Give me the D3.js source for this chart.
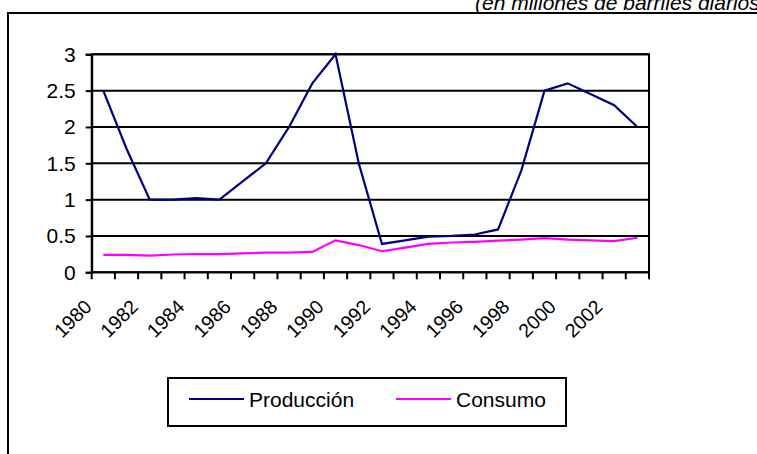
<!DOCTYPE html>
<html>
<head>
<meta charset="utf-8">
<script src="https://cdn.jsdelivr.net/npm/d3@7"></script>
<style>
  html, body { margin: 0; padding: 0; background: #fff; }
  svg { display: block; }
  text { font-family: "Liberation Sans", Arial, sans-serif; }
</style>
</head>
<body>
<svg id="chart" width="757" height="454"></svg>
<script>
// Years on the category axis
const years = d3.range(1980, 2004);
// Production, millions of barrels per day
const produccion = [2.5, 1.7, 1.0, 1.0, 1.02, 1.0, 1.25, 1.5, 2.0, 2.6, 3.0, 1.5,
                    0.39, 0.44, 0.49, 0.5, 0.52, 0.59, 1.4, 2.5, 2.6, 2.45, 2.3, 2.0];
// Consumption, millions of barrels per day
const consumo = [0.24, 0.24, 0.23, 0.245, 0.25, 0.25, 0.26, 0.27, 0.27, 0.28, 0.44, 0.375,
                 0.29, 0.34, 0.39, 0.41, 0.42, 0.435, 0.45, 0.47, 0.45, 0.44, 0.43, 0.475];
const yTicks = [0, 0.5, 1, 1.5, 2, 2.5, 3];
const yearLabels = years.filter((y, i) => i % 2 === 0);
const seriesNames = ["Producción", "Consumo"];
const seriesColors = ["#000080", "#FF00FF"];

const svg = d3.select("#chart");

// Outer chart frame (runs off the right and bottom of the page)
svg.append("rect")
  .attr("x", 8).attr("y", 13).attr("width", 800).attr("height", 500)
  .attr("fill", "none").attr("stroke", "#000").attr("stroke-width", 2);

// Units note
svg.append("text")
  .attr("x", 475).attr("y", 10)
  .attr("font-size", 21).attr("font-style", "italic")
  .text("(en millones de barriles diarios)");

const plot = { left: 91.7, right: 649, top: 54.3, bottom: 272.3 };

const x = d3.scaleBand().domain(years).range([plot.left, plot.right]).padding(0);
const y = d3.scaleLinear().domain([0, 3]).range([plot.bottom, plot.top]);
const cx = d => x(d) + x.bandwidth() / 2;

// Horizontal gridlines
svg.append("g").selectAll("line").data(yTicks).join("line")
  .attr("x1", plot.left).attr("x2", plot.right)
  .attr("y1", d => y(d)).attr("y2", d => y(d))
  .attr("stroke", "#000").attr("stroke-width", 2);

// Plot area border
svg.append("rect")
  .attr("x", plot.left).attr("y", plot.top)
  .attr("width", plot.right - plot.left).attr("height", plot.bottom - plot.top)
  .attr("fill", "none").attr("stroke", "#000").attr("stroke-width", 2);

// Value axis
const yAxis = svg.append("g")
  .attr("transform", `translate(${plot.left},0)`)
  .call(d3.axisLeft(y).tickValues(yTicks).tickSize(6).tickPadding(10).tickFormat(d3.format("")));
yAxis.select(".domain").attr("stroke-width", 2);
yAxis.selectAll(".tick line").attr("stroke-width", 2);
yAxis.selectAll("text").attr("font-size", 21).attr("fill", "#000")
  .attr("font-family", "'Liberation Sans', Arial, sans-serif");

// Category axis: ticks on category boundaries
const bounds = years.map(d => x(d)).concat([plot.right]);
svg.append("g").selectAll("line").data(bounds).join("line")
  .attr("x1", d => d).attr("x2", d => d)
  .attr("y1", plot.bottom).attr("y2", plot.bottom + 7)
  .attr("stroke", "#000").attr("stroke-width", 2);

// Rotated year labels, every second year
svg.append("g").selectAll("text").data(yearLabels).join("text")
  .attr("transform", d => `translate(${cx(d) - 10.5},${308}) rotate(-45)`)
  .attr("text-anchor", "end")
  .attr("font-size", 19.5)
  .text(d => d);

// Series lines
const line = d3.line().x((d, i) => cx(years[i])).y(d => y(d));
[produccion, consumo].forEach((vals, k) => {
  svg.append("path")
    .datum(vals)
    .attr("d", line)
    .attr("fill", "none")
    .attr("stroke", seriesColors[k])
    .attr("stroke-width", 2.2)
    .attr("stroke-linejoin", "miter");
});

// Legend
const legend = svg.append("g");
legend.append("rect")
  .attr("x", 168).attr("y", 378).attr("width", 398).attr("height", 48)
  .attr("fill", "#fff").attr("stroke", "#000").attr("stroke-width", 2);
const legendX = [189, 396];
seriesNames.forEach((name, k) => {
  legend.append("line")
    .attr("x1", legendX[k]).attr("x2", legendX[k] + 55)
    .attr("y1", 399).attr("y2", 399)
    .attr("stroke", seriesColors[k]).attr("stroke-width", 2.2);
  legend.append("text")
    .attr("x", legendX[k] + 60).attr("y", 407)
    .attr("font-size", 21)
    .text(name);
});
</script>
</body>
</html>
